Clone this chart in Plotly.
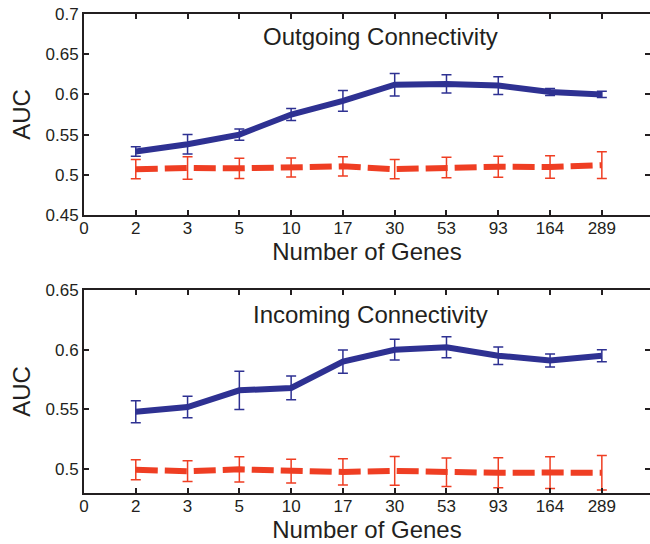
import plotly.graph_objects as go

# ---- data ----
genes = [2, 3, 5, 10, 17, 30, 53, 93, 164, 289]
tick_labels = ["0"] + [str(g) for g in genes]

out_real = [0.529, 0.538, 0.550, 0.575, 0.592, 0.612, 0.613, 0.611, 0.603, 0.600]
out_real_err = [0.006, 0.012, 0.007, 0.0075, 0.013, 0.014, 0.0114, 0.011, 0.0043, 0.004]
out_rand = [0.507, 0.5085, 0.508, 0.509, 0.5105, 0.507, 0.509, 0.510, 0.5097, 0.512]
out_rand_err = [0.012, 0.014, 0.0127, 0.0118, 0.012, 0.012, 0.0128, 0.013, 0.014, 0.0166]

in_real = [0.548, 0.552, 0.566, 0.568, 0.590, 0.600, 0.602, 0.595, 0.591, 0.595]
in_real_err = [0.0092, 0.009, 0.016, 0.010, 0.0097, 0.0087, 0.0088, 0.0073, 0.0055, 0.005]
in_rand = [0.4994, 0.4983, 0.4998, 0.4983, 0.4976, 0.4985, 0.4974, 0.4969, 0.4971, 0.4970]
in_rand_err = [0.0084, 0.0087, 0.0105, 0.010, 0.011, 0.012, 0.012, 0.0126, 0.0133, 0.0144]

top_yticks = [0.45, 0.5, 0.55, 0.6, 0.65, 0.7]
bot_yticks = [0.5, 0.55, 0.6, 0.65]

panel_titles = ["Outgoing Connectivity", "Incoming Connectivity"]

# ---- style ----
BLUE = "#2e3192"
RED = "#ef3e23"
INK = "#231f20"
FONT = "Liberation Sans, Arial, Helvetica, sans-serif"

x_pos = list(range(1, len(genes) + 1))
tick_pos = list(range(0, len(tick_labels)))

fig = go.Figure()

def add_series(y, err, color, dash, xa, ya):
    fig.add_trace(go.Scatter(
        x=x_pos, y=y, mode="lines", xaxis=xa, yaxis=ya,
        line=dict(color=color, width=6, dash=dash),
        error_y=dict(type="data", array=err, visible=True, color=color,
                     thickness=1.5, width=5),
        showlegend=False, hoverinfo="skip"))

add_series(out_real, out_real_err, BLUE, "solid", "x", "y")
add_series(out_rand, out_rand_err, RED, "22px,7px", "x", "y")
add_series(in_real, in_real_err, BLUE, "solid", "x2", "y2")
add_series(in_rand, in_rand_err, RED, "22px,7px", "x2", "y2")

# invisible traces so right-hand tick axes get drawn
fig.add_trace(go.Scatter(x=[None], y=[None], xaxis="x", yaxis="y3", showlegend=False))
fig.add_trace(go.Scatter(x=[None], y=[None], xaxis="x2", yaxis="y4", showlegend=False))

xrange = [0, 10.93]
common_x = dict(range=xrange, tickmode="array", tickvals=tick_pos, ticktext=tick_labels,
                ticks="inside", ticklen=5, tickwidth=1.5, tickcolor=INK,
                showline=True, linewidth=2, linecolor=INK, mirror="ticks",
                showgrid=False, zeroline=False, automargin=False,
                ticklabelstandoff=-3,
                tickfont=dict(size=17, color=INK, family=FONT),
                title=dict(text="Number of Genes", font=dict(size=24, color=INK, family=FONT),
                           standoff=3))
common_y = dict(ticks="inside", ticklen=5, tickwidth=1.5, tickcolor=INK,
                showline=True, linewidth=2, linecolor=INK, mirror=False,
                showgrid=False, zeroline=False, automargin=False,
                ticklabeloverflow="allow",
                tickfont=dict(size=17, color=INK, family=FONT),
                title=dict(text="AUC", font=dict(size=24, color=INK, family=FONT), standoff=8))
right_y = dict(side="right", ticks="inside", ticklen=5, tickwidth=1.5, tickcolor=INK,
               showline=False, showgrid=False, zeroline=False, showticklabels=False,
               automargin=False)

top_dom = [0.5804, 1.0]
bot_dom = [0.0, 0.4238]

fig.update_layout(
    width=650, height=544,
    margin=dict(l=84, r=0, t=14, b=51, autoexpand=False),
    paper_bgcolor="white", plot_bgcolor="white",
    font=dict(family=FONT, color=INK),
    xaxis=dict(anchor="y", domain=[0, 1], **common_x),
    xaxis2=dict(anchor="y2", domain=[0, 1], **common_x),
    yaxis=dict(anchor="x", domain=top_dom, range=[0.45, 0.7],
               tickvals=top_yticks, ticktext=[f"{v:g}" for v in top_yticks], **common_y),
    yaxis2=dict(anchor="x2", domain=bot_dom, range=[0.48, 0.65],
                tickvals=bot_yticks, ticktext=[f"{v:g}" for v in bot_yticks], **common_y),
    yaxis3=dict(overlaying="y", anchor="x", range=[0.45, 0.7], tickvals=top_yticks, **right_y),
    yaxis4=dict(overlaying="y2", anchor="x2", range=[0.48, 0.65], tickvals=bot_yticks, **right_y),
)

fig.add_annotation(text=panel_titles[0], xref="x domain", yref="y domain",
                   x=0.523, y=0.886, xanchor="center", yanchor="middle", showarrow=False,
                   font=dict(size=24, color=INK, family=FONT))
fig.add_annotation(text=panel_titles[1], xref="x2 domain", yref="y2 domain",
                   x=0.507, y=0.877, xanchor="center", yanchor="middle", showarrow=False,
                   font=dict(size=24, color=INK, family=FONT))

# remove the page's default 8px body margin so the figure fills the window exactly
fig.write_html("out.html", config={"displayModeBar": False},
               post_script="document.body.style.margin='0px';")
